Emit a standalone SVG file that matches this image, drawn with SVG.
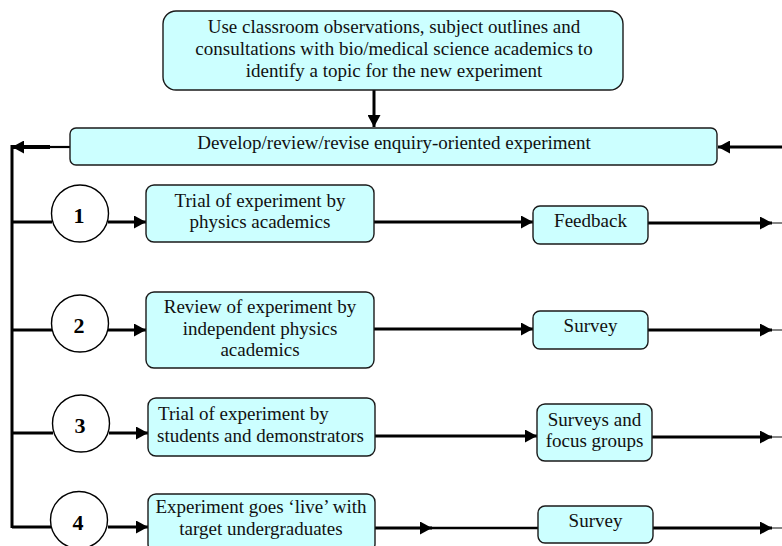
<svg xmlns="http://www.w3.org/2000/svg" width="782" height="546" viewBox="0 0 782 546">
<style>
.box{fill:#CCFFFF;stroke:#1a1a1a;stroke-width:1.4}
.circ{fill:#ffffff;stroke:#000;stroke-width:1.4}
.t{font-family:"Liberation Serif","Times New Roman",serif;font-size:19px;fill:#111;text-anchor:middle}
.ts{font-family:"Liberation Serif","Times New Roman",serif;font-size:19px;fill:#111;text-anchor:start}
.n{font-family:"Liberation Serif","Times New Roman",serif;font-size:22px;font-weight:bold;fill:#000;text-anchor:middle}
.c{stroke:#000;stroke-width:3;fill:none}
.thin{stroke:#333;stroke-width:1.2;fill:none}
</style>
<defs>
<marker id="ah" markerUnits="userSpaceOnUse" markerWidth="13" markerHeight="13" refX="12" refY="6.5" orient="auto">
<path d="M0,0 L12,6.5 L0,13 Z" fill="#000"/>
</marker>
</defs>
<g id="connectors">
<line class="c" x1="374" y1="90" x2="374" y2="127" marker-end="url(#ah)"/>
<line x1="70" y1="147" x2="48" y2="147" stroke="#000" stroke-width="2.2"/>
<line x1="50" y1="147" x2="12" y2="147" stroke="#000" stroke-width="4" marker-end="url(#ah)"/>
<line class="c" x1="12" y1="145" x2="12" y2="528"/>
<line class="c" x1="782" y1="147" x2="718" y2="147" marker-end="url(#ah)"/>
<line class="c" x1="12" y1="222" x2="52" y2="222"/>
<line class="c" x1="108" y1="222" x2="146" y2="222" marker-end="url(#ah)"/>
<line class="c" x1="374" y1="222" x2="533" y2="222" marker-end="url(#ah)"/>
<line class="c" x1="648" y1="223" x2="772" y2="223" marker-end="url(#ah)"/>
<line class="thin" x1="772" y1="223" x2="782" y2="223"/>
<line class="c" x1="12" y1="330" x2="52" y2="330"/>
<line class="c" x1="108" y1="330" x2="146" y2="330" marker-end="url(#ah)"/>
<line class="c" x1="374" y1="329" x2="533" y2="329" marker-end="url(#ah)"/>
<line class="c" x1="648" y1="330" x2="772" y2="330" marker-end="url(#ah)"/>
<line class="thin" x1="772" y1="330" x2="782" y2="330"/>
<line class="c" x1="12" y1="433" x2="53" y2="433"/>
<line class="c" x1="109" y1="433" x2="148" y2="433" marker-end="url(#ah)"/>
<line class="c" x1="375" y1="436" x2="537" y2="436" marker-end="url(#ah)"/>
<line class="c" x1="652" y1="437" x2="772" y2="437" marker-end="url(#ah)"/>
<line class="thin" x1="772" y1="437" x2="782" y2="437"/>
<line class="c" x1="12" y1="527" x2="51" y2="527"/>
<line class="c" x1="108" y1="527" x2="148" y2="527" marker-end="url(#ah)"/>
<line class="c" x1="375" y1="528" x2="432" y2="528" marker-end="url(#ah)"/>
<line x1="430" y1="528" x2="538" y2="528" stroke="#000" stroke-width="2.4"/>
<line class="c" x1="653" y1="528" x2="772" y2="528" marker-end="url(#ah)"/>
<line class="thin" x1="772" y1="528" x2="782" y2="528"/>
</g>
<g id="topic">
<rect class="box" x="163" y="11" width="460" height="79" rx="13"/>
<text class="t" x="394" y="33">Use classroom observations, subject outlines and</text>
<text class="t" x="394" y="55">consultations with bio/medical science academics to</text>
<text class="t" x="394" y="77">identify a topic for the new experiment</text>
</g>
<g id="develop">
<rect class="box" x="70" y="128" width="647" height="37" rx="6"/>
<text class="t" x="394" y="149">Develop/review/revise enquiry-oriented experiment</text>
</g>
<g id="c1"><circle class="circ" cx="80" cy="213.5" r="28.5"/><text class="n" x="79" y="223">1</text></g>
<g id="c2"><circle class="circ" cx="80" cy="323.5" r="28.5"/><text class="n" x="79" y="333">2</text></g>
<g id="c3"><circle class="circ" cx="81" cy="423.5" r="28.5"/><text class="n" x="80" y="433">3</text></g>
<g id="c4"><circle class="circ" cx="79" cy="520" r="28.5"/><text class="n" x="78" y="530">4</text></g>
<g id="step1">
<rect class="box" x="146" y="185" width="228" height="57" rx="8"/>
<text class="t" x="260" y="207">Trial of experiment by</text>
<text class="t" x="260" y="228">physics academics</text>
</g>
<g id="feedback">
<rect class="box" x="533" y="206" width="115" height="38" rx="7"/>
<text class="t" x="590.5" y="227">Feedback</text>
</g>
<g id="step2">
<rect class="box" x="146" y="292" width="228" height="76" rx="8"/>
<text class="t" x="260" y="313">Review of experiment by</text>
<text class="t" x="260" y="335">independent physics</text>
<text class="t" x="260" y="356">academics</text>
</g>
<g id="survey2">
<rect class="box" x="533" y="311" width="115" height="38" rx="7"/>
<text class="t" x="590.5" y="332">Survey</text>
</g>
<g id="step3">
<rect class="box" x="148" y="398" width="227" height="58" rx="8"/>
<text class="ts" x="158" y="420">Trial of experiment by</text>
<text class="ts" x="157" y="442">students and demonstrators</text>
</g>
<g id="surveys3">
<rect class="box" x="537" y="404" width="115" height="57" rx="8"/>
<text class="t" x="594.5" y="426">Surveys and</text>
<text class="t" x="594.5" y="447">focus groups</text>
</g>
<g id="step4">
<rect class="box" x="148" y="494" width="227" height="58" rx="8"/>
<text class="t" x="261" y="513">Experiment goes ‘live’ with</text>
<text class="t" x="261" y="535">target undergraduates</text>
</g>
<g id="survey4">
<rect class="box" x="538" y="506" width="115" height="37" rx="7"/>
<text class="t" x="595.5" y="527">Survey</text>
</g>
</svg>
